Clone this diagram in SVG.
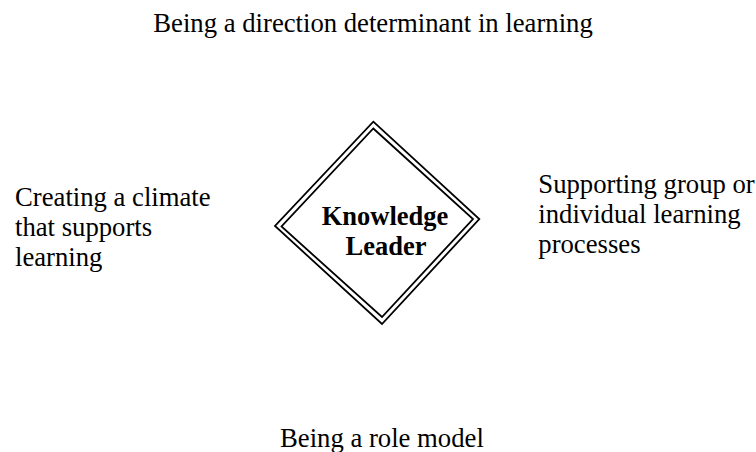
<svg xmlns="http://www.w3.org/2000/svg" width="756" height="452" viewBox="0 0 756 452">
  <style>
    .lbl { font-family: "Liberation Serif", "Times New Roman", serif; font-size: 26.7px; fill: #000; }
    .ctr { font-family: "Liberation Serif", "Times New Roman", serif; font-size: 26.5px; font-weight: bold; fill: #000; text-anchor: middle; }
    .dia { fill: none; stroke: #000; stroke-width: 1.8; stroke-linejoin: miter; }
  </style>
  <rect width="756" height="452" fill="#fff"/>
  <g id="connectors"></g>
  <g id="node-leader">
    <polygon class="dia" points="373.3,121.7 479.3,219 382,324 275,226"/>
    <polygon class="dia" points="373.3,128.5 473,219 382,317 281.5,226.5"/>
    <text class="ctr" x="385" y="224.5">Knowledge</text>
    <text class="ctr" x="386" y="255">Leader</text>
  </g>
  <g id="node-top">
    <text class="lbl" x="153.3" y="31.7">Being a direction determinant in learning</text>
  </g>
  <g id="node-left">
    <text class="lbl" x="15" y="206">Creating a climate</text>
    <text class="lbl" x="15" y="236">that supports</text>
    <text class="lbl" x="15" y="265.5">learning</text>
  </g>
  <g id="node-right">
    <text class="lbl" x="538.3" y="193.3">Supporting group or</text>
    <text class="lbl" x="538.3" y="223">individual learning</text>
    <text class="lbl" x="538.3" y="252.5">processes</text>
  </g>
  <g id="node-bottom">
    <text class="lbl" x="280" y="446.7">Being a role model</text>
  </g>
</svg>
